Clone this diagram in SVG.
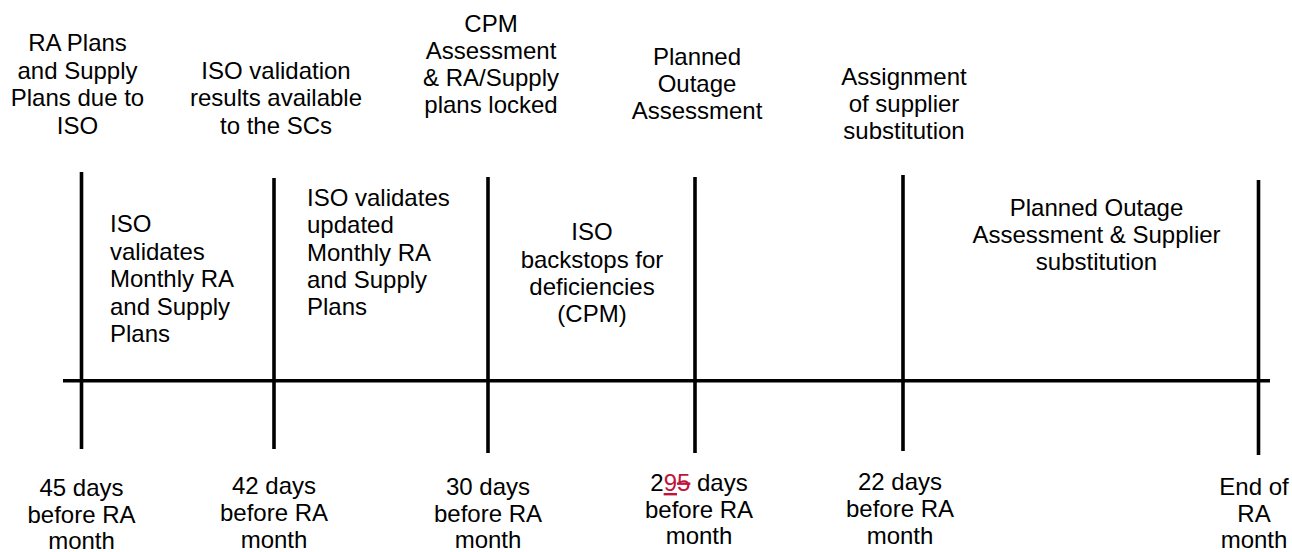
<svg xmlns="http://www.w3.org/2000/svg" width="1292" height="552" viewBox="0 0 1292 552">
<style>
  text { font-family: "Liberation Sans", Arial, sans-serif; font-size: 24px; fill: #000; }
  .c { text-anchor: middle; }
  .l { text-anchor: start; }
  .ln { stroke: #000; stroke-width: 3.6; fill: none; }
  .red { fill: #C0143C; }
</style>
<rect width="1292" height="552" fill="#fff"/>
<g id="connectors">
  <line class="ln" x1="63" y1="380.7" x2="1270" y2="380.7"/>
  <line class="ln" x1="81.5" y1="172" x2="81.5" y2="449"/>
  <line class="ln" x1="274" y1="178" x2="274" y2="449"/>
  <line class="ln" x1="488" y1="177" x2="488" y2="453"/>
  <line class="ln" x1="695" y1="177" x2="695" y2="453"/>
  <line class="ln" x1="903" y1="175" x2="903" y2="451"/>
  <line class="ln" x1="1258.5" y1="180" x2="1258.5" y2="455"/>
</g>
<g id="m45">
  <text class="c" x="77.5" y="51">RA Plans</text>
  <text class="c" x="77.5" y="78.5">and Supply</text>
  <text class="c" x="77.5" y="106">Plans due to</text>
  <text class="c" x="77.5" y="133.5">ISO</text>
  <text class="c" x="81.5" y="496">45 days</text>
  <text class="c" x="81.5" y="522.5">before RA</text>
  <text class="c" x="81.5" y="549">month</text>
</g>
<g id="m42">
  <text class="c" x="276" y="78.5">ISO validation</text>
  <text class="c" x="276" y="106">results available</text>
  <text class="c" x="276" y="133.5">to the SCs</text>
  <text class="c" x="274" y="494">42 days</text>
  <text class="c" x="274" y="521">before RA</text>
  <text class="c" x="274" y="548">month</text>
</g>
<g id="m30">
  <text class="c" x="491" y="32">CPM</text>
  <text class="c" x="491" y="59">Assessment</text>
  <text class="c" x="491" y="86">&amp; RA/Supply</text>
  <text class="c" x="491" y="113">plans locked</text>
  <text class="c" x="488" y="495">30 days</text>
  <text class="c" x="488" y="521.5">before RA</text>
  <text class="c" x="488" y="548">month</text>
</g>
<g id="m29">
  <text class="c" x="697" y="65">Planned</text>
  <text class="c" x="697" y="92">Outage</text>
  <text class="c" x="697" y="119">Assessment</text>
  <text class="c" x="699" y="491">2<tspan class="red" style="text-decoration:underline">9</tspan><tspan class="red" style="text-decoration:line-through">5</tspan> days</text>
  <text class="c" x="699" y="517.5">before RA</text>
  <text class="c" x="699" y="544">month</text>
</g>
<g id="m22">
  <text class="c" x="904" y="85">Assignment</text>
  <text class="c" x="904" y="112">of supplier</text>
  <text class="c" x="904" y="139">substitution</text>
  <text class="c" x="900" y="490">22 days</text>
  <text class="c" x="900" y="517">before RA</text>
  <text class="c" x="900" y="544">month</text>
</g>
<g id="mEnd">
  <text class="c" x="1254" y="495">End of</text>
  <text class="c" x="1254" y="521.5">RA</text>
  <text class="c" x="1254" y="548">month</text>
</g>
<g id="p1">
  <text class="l" x="110" y="232">ISO</text>
  <text class="l" x="110" y="259.5">validates</text>
  <text class="l" x="110" y="287">Monthly RA</text>
  <text class="l" x="110" y="314.5">and Supply</text>
  <text class="l" x="110" y="342">Plans</text>
</g>
<g id="p2">
  <text class="l" x="307" y="206">ISO validates</text>
  <text class="l" x="307" y="233">updated</text>
  <text class="l" x="307" y="260.5">Monthly RA</text>
  <text class="l" x="307" y="288">and Supply</text>
  <text class="l" x="307" y="315">Plans</text>
</g>
<g id="p3">
  <text class="c" x="592" y="240">ISO</text>
  <text class="c" x="592" y="267.5">backstops for</text>
  <text class="c" x="592" y="295">deficiencies</text>
  <text class="c" x="592" y="322">(CPM)</text>
</g>
<g id="p4">
  <text class="c" x="1096.5" y="216">Planned Outage</text>
  <text class="c" x="1096.5" y="243">Assessment &amp; Supplier</text>
  <text class="c" x="1096.5" y="270">substitution</text>
</g>
</svg>
